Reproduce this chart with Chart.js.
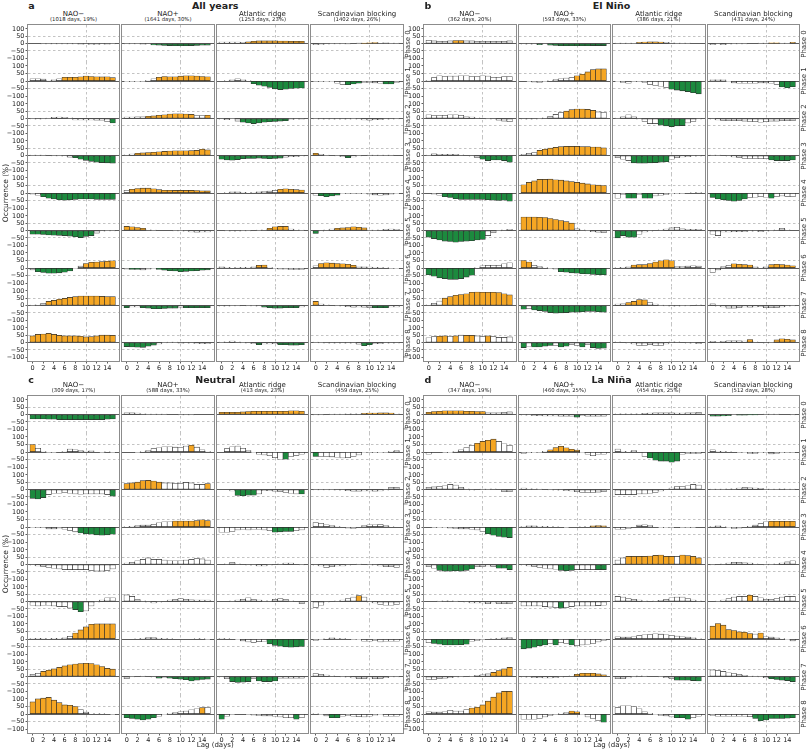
<!DOCTYPE html>
<html lang="en">
<head>
<meta charset="UTF-8" />
<title>Regime occurrence by MJO phase and lag</title>
<script src="https://cdn.jsdelivr.net/npm/chart.js"></script>
<style>
  body { margin: 0; background: #fff; width: 808px; height: 750px; overflow: hidden; position: relative;
         font-family: "DejaVu Sans", sans-serif; color: #222; }
  .txt { position: absolute; white-space: nowrap; line-height: 1; transform: translate(-50%, -50%); }
  .frame { position: absolute; border: 1.4px solid #8c8c8c; box-sizing: border-box; pointer-events: none; }
  canvas { position: absolute; }
</style>
</head>
<body>
<div id="fig"></div>
<script>
// ---- labels / ticks ----
const lags = [0, 1, 2, 3, 4, 5, 6, 7, 8, 9, 10, 11, 12, 13, 14, 15];
const xTicks = [0, 2, 4, 6, 8, 10, 12, 14];
const yTicks = [100, 50, 0, -50, -100];
const regimes = ['NAO\u2212', 'NAO+', 'Atlantic ridge', 'Scandinavian blocking'];
const phases = ['Phase 0', 'Phase 1', 'Phase 2', 'Phase 3', 'Phase 4', 'Phase 5', 'Phase 6', 'Phase 7', 'Phase 8'];
const daysAll = ['(1018 days, 19%)', '(1641 days, 30%)', '(1253 days, 23%)', '(1402 days, 26%)'];
const daysNino = ['(362 days, 20%)', '(593 days, 33%)', '(386 days, 21%)', '(431 days, 24%)'];
const daysNeutral = ['(309 days, 17%)', '(588 days, 33%)', '(413 days, 23%)', '(459 days, 25%)'];
const daysNina = ['(347 days, 19%)', '(460 days, 25%)', '(454 days, 25%)', '(512 days, 28%)'];

// ---- values: one row per phase (0..8), one value per lag (0..15) ----
// significance strings: o = significant positive, g = significant negative, w = not significant

// a) All years
const allNaoMinus = [
  [0,0,-2,-2,-2,-2,-2,-3,-3,-4,-5,-6,-6,-5,-4,-3],
  [15,15,12,5,8,15,25,25,25,28,33,30,28,27,28,22],
  [-3,-5,-3,2,8,10,8,5,-10,-10,-10,-10,-12,-12,-22,-30],
  [2,3,2,0,-2,-3,-5,-12,-15,-25,-33,-40,-45,-48,-50,-52],
  [-8,-15,-25,-35,-40,-45,-48,-45,-42,-40,-40,-40,-42,-42,-42,-42],
  [-25,-25,-27,-30,-32,-33,-35,-38,-42,-48,-40,-35,-18,-5,-3,-2],
  [-12,-25,-30,-35,-35,-32,-28,-20,-5,12,30,38,40,42,45,48],
  [2,5,15,28,35,42,48,55,60,65,65,65,65,62,60,60],
  [45,55,58,62,55,48,45,45,45,42,38,40,45,50,50,48]
];
const allNaoMinusSig = ['wwwwwwwwwwwwwwww','wwwwwwoooooooooo','wwwwwwwwwwwwwwwg','wwwwwwwwgggggggg','wwgggggggggggggg','ggggggggggggwwww','wgggggggwwoooooo','wwwooooooooooooo','oooooooooooooooo'];

const allNaoPlus = [
  [-2,-3,-3,-4,-5,-10,-12,-13,-14,-15,-15,-15,-14,-13,-12,-12],
  [-5,-5,-5,-3,5,15,25,30,28,28,32,35,35,33,30,28],
  [10,10,12,12,15,18,22,25,30,32,32,30,28,20,20,22],
  [5,10,15,18,20,22,25,28,30,32,32,32,33,35,42,38],
  [18,25,30,32,32,28,22,18,18,17,17,17,17,16,15,14],
  [28,25,20,15,5,2,0,0,0,-2,-3,-5,-10,-12,-10,-10],
  [-8,-10,-10,-12,-8,-5,-10,-15,-18,-20,-25,-22,-20,-18,-15,-12],
  [-15,-10,-10,-15,-18,-22,-22,-20,-18,-18,-12,-15,-15,-15,-15,-15],
  [-28,-30,-32,-33,-25,-18,-10,-3,2,3,-4,-5,-5,-7,-8,-8]
];
const allNaoPlusSig = ['wwwwwggggggggggg','wwwwwwoooooooooo','wwwwooooooooowwo','wwoooooooooooooo','wooooooooooooooo','oooowwwwwwwwwwww','wggwwwgggggggggg','gwwgggggggwggggg','ggggggwwwwwwwwww'];

const allAtlRidge = [
  [10,10,10,10,8,12,15,18,18,18,18,17,17,15,15,15],
  [0,3,8,15,8,3,-18,-28,-35,-42,-52,-57,-55,-50,-48,-46],
  [-5,-8,-3,-18,-25,-30,-35,-30,-25,-22,-20,-18,-15,-6,-5,-4],
  [-25,-30,-32,-28,-22,-20,-20,-18,-20,-22,-20,-18,-12,-8,-8,-5],
  [0,3,8,8,5,3,5,8,10,12,18,25,28,25,22,20],
  [0,-3,-5,-5,-3,-2,0,2,5,15,25,28,28,10,5,2],
  [8,5,3,5,5,5,8,18,20,5,-5,-8,-8,-10,-10,-10],
  [-5,-5,-3,-2,0,-2,-3,-5,-12,-15,-18,-18,-15,-15,-15,-10],
  [2,5,10,5,-2,-5,-8,-15,-10,-10,-8,-15,-15,-18,-18,-15]
];
const allAtlRidgeSig = ['wwwwwooooooooooo','wwwwwwgggggggggg','wwwwgggggggggwww','ggggggggggggwwww','wwwwwwwwwwwooooo','wwwwwwwwwoooowww','wwwwwwwoowwwwwww','wwwwwwwwgggggggw','wwwwwwwgwwwggggg'];

const allScBlock = [
  [-8,-6,-5,-3,-2,-2,-1,0,1,3,5,6,5,4,2,2],
  [-3,-5,-5,-5,-15,-22,-25,-20,-15,-10,-10,-12,-15,-20,-20,-10],
  [-3,-5,-5,-5,-5,-5,-5,-3,-5,-10,-12,-8,-8,-5,-5,-3],
  [15,8,3,0,-3,-8,-15,-10,-3,0,2,3,3,2,2,0],
  [-15,-18,-25,-20,-15,-5,-3,-2,-3,-5,-8,-12,-15,-12,-8,-5],
  [-20,-5,5,10,15,18,20,25,22,18,2,3,5,8,10,8],
  [15,30,35,32,30,28,25,18,8,8,6,5,5,3,-2,-5],
  [28,10,5,0,-3,-5,-8,-12,-10,-12,-15,-15,-15,-15,-10,-10],
  [2,-3,-5,-5,-5,-5,-5,-5,-12,-22,-15,-8,-8,-5,-5,-5]
];
const allScBlockSig = ['wwwwwwwwwooowwww','wwwwwwgggwwwwggw','wwwwwwwwwwwwwwww','owwwwwgwwwwwwwww','wggggwwwwwwwwwww','gwwwoooooowwwwww','wooooooowwwwwwww','owwwwwwwwwwgggww','wwwwwwwwwggwwwww'];

// b) El Nino
const ninoNaoMinus = [
  [22,18,15,15,18,20,20,18,18,15,15,15,15,15,15,18],
  [5,22,35,30,33,33,35,35,30,30,35,33,25,25,30,30],
  [25,20,20,22,25,25,22,12,10,5,0,-3,-5,-12,-18,-22],
  [3,12,8,8,8,8,5,0,-5,-15,-25,-35,-30,-30,-35,-45],
  [0,-8,-15,-25,-30,-38,-42,-42,-42,-42,-42,-45,-48,-50,-48,-55],
  [-45,-55,-65,-72,-75,-80,-75,-72,-70,-65,-60,-35,-15,-3,5,8],
  [-45,-55,-65,-70,-75,-75,-70,-60,-48,3,15,18,18,18,28,35],
  [5,15,30,50,60,70,75,80,90,92,90,90,90,88,80,72],
  [32,40,42,45,42,45,50,48,48,45,40,45,40,35,35,38]
];
const ninoNaoMinusSig = ['wwwwwoowwwwwwwww','wwwwwwwwwwwwwwww','wwwwwwwwwwwwwwww','wwwwwwwwwwgggggg','wwwggggggggggggg','gggggggggggwwwww','gggggggggwwwwwww','wwwooooooooooooo','wwoowowoowwowwww'];

const ninoNaoPlus = [
  [-5,-5,-5,-8,-5,-12,-13,-15,-15,-15,-15,-15,-15,-14,-14,-14],
  [0,-5,-8,-10,-5,2,10,15,20,22,35,45,60,75,80,80],
  [-5,-5,-5,-3,5,15,28,40,50,60,65,65,62,55,45,42],
  [8,15,20,35,42,50,55,60,62,62,62,60,60,58,58,52],
  [55,70,80,90,90,92,88,85,80,75,70,65,60,55,52,50],
  [92,92,92,90,88,82,75,68,60,50,12,5,-3,-8,-12,-15],
  [50,40,18,10,3,-2,-8,-25,-28,-32,-35,-38,-40,-42,-45,-45],
  [-25,-22,-30,-35,-40,-48,-52,-50,-48,-45,-45,-42,-40,-40,-42,-45],
  [-35,-25,-30,-30,-25,-20,-20,-30,-25,-15,-20,-30,-15,-35,-40,-38]
];
const ninoNaoPlusSig = ['wwwgwggggggggggg','wwwwwwwwwwoooooo','wwwwwwwwooooooww','wwwooooooooooooo','oooooooooooooooo','oooooooooowwwwww','oowwwwwggggggggg','gwgggggggggggggg','gwggggwggwwgwggg'];

const ninoAtlRidge = [
  [2,2,3,3,8,10,12,12,10,8,5,3,3,2,0,0],
  [-5,-10,-15,-3,-2,-10,-22,-30,-35,-42,-55,-60,-65,-70,-78,-85],
  [3,12,25,12,-5,-20,-35,-35,-45,-50,-55,-50,-48,-30,-20,-5],
  [-15,-25,-35,-50,-52,-52,-50,-48,-45,-42,-25,-15,-10,-8,-5,-5],
  [-35,-10,-35,-35,-10,-35,-35,-20,-15,-10,-5,-5,-3,0,3,5],
  [-50,-35,-45,-45,-25,-10,-5,0,5,10,18,22,12,8,8,8],
  [2,5,8,20,22,22,30,40,48,55,48,10,10,12,15,12],
  [10,12,20,28,40,38,20,10,3,-2,-5,-5,-3,-3,0,5],
  [5,0,-5,-10,-20,-20,-15,-20,-20,-10,5,5,0,-5,-5,-8]
];
const ninoAtlRidgeSig = ['wwwwooooowwwwwww','wwwwwwwwwwgggggg','wwwwwwwwgggggwww','wwwgggggggwwwwww','wwggwggwwwwwwwww','ggggwwwwwwwwwwww','wwwoooooooowwwww','wwoooowwwwwwwwww','wwwwwwwwwwwwwwww'];

const ninoScBlock = [
  [-8,-5,-8,-5,-3,-2,-2,0,0,2,2,5,5,3,3,8],
  [8,8,8,-5,-12,-15,-15,-15,-15,-12,-12,-15,-22,-40,-45,-38],
  [-5,-10,-15,-15,-15,-15,-18,-20,-22,-25,-22,-18,-18,-15,-15,-15],
  [3,2,0,-5,-10,-15,-20,-20,-20,-22,-22,-30,-35,-35,-35,-30],
  [-30,-40,-45,-50,-55,-50,-40,-30,-28,-25,-28,-35,-25,-20,-22,-25],
  [-25,-35,-10,-10,-8,-8,-8,-5,-5,-8,-5,-2,5,15,5,0],
  [-30,-12,10,18,28,25,22,20,8,2,8,22,25,22,20,15],
  [12,-5,-10,-18,-18,-15,-10,-12,-10,-8,-15,-15,-15,-10,-5,-3],
  [8,5,8,12,12,12,10,20,5,0,-5,2,18,25,22,18]
];
const ninoScBlockSig = ['wwwwwwwwwwwoowwo','wwwwwwwwwwwwwggg','wwwwwwwwwwwwwwww','wwwwwwwwwwwggggg','gggggggwwwwgwwww','wwwwwwwwwwwwwwww','wwwwoooowwwooooo','wwwwwwwwwwwwwwww','wwwwwwwowwwwoooo'];

// c) Neutral
const neuNaoMinus = [
  [-30,-30,-30,-32,-32,-35,-35,-35,-35,-35,-35,-35,-35,-35,-32,-30],
  [50,25,5,-2,-3,0,5,20,15,10,5,8,0,-3,3,-3],
  [-60,-65,-55,-35,-25,-25,-20,-25,-30,-32,-30,-30,-30,-30,-35,-45],
  [-5,-3,-2,-12,-12,-8,-15,-22,-32,-40,-45,-48,-52,-55,-52,-48],
  [-5,-10,-15,-20,-25,-30,-35,-35,-35,-35,-35,-40,-45,-45,-40,-30],
  [-25,-30,-25,-25,-30,-35,-35,-45,-55,-70,-65,-30,-5,10,25,25],
  [5,5,5,3,5,5,8,18,40,60,80,98,100,100,100,100],
  [15,22,35,42,52,62,72,80,85,88,90,88,80,68,55,50],
  [80,100,105,110,92,75,60,58,50,30,12,3,3,3,0,-3]
];
const neuNaoMinusSig = ['gggggggggggggggg','owwwwwwwwwwwwwww','gggwwwwwwwwwwwwg','wwwwwwwwwggggggg','wwwwwwwwwwwwwwww','wwwwwwwwggwwwwww','wwwwwwwwoooooooo','wwoooooooooooooo','ooooooooowwwwwww'];

const neuNaoPlus = [
  [12,12,10,5,3,3,2,2,0,0,-2,-2,-2,0,0,0],
  [0,0,-2,3,10,22,28,35,35,32,30,40,45,32,15,5],
  [40,45,50,60,62,58,50,45,45,42,42,48,45,35,35,40],
  [3,5,10,12,12,18,28,35,35,40,40,40,40,42,48,42],
  [10,15,25,35,45,35,35,30,25,25,25,30,35,40,38,30],
  [45,35,15,5,-5,-10,-5,0,10,15,20,15,12,10,10,10],
  [0,0,2,5,10,10,5,5,3,0,0,0,0,2,2,-2],
  [-15,-3,0,2,0,-5,-12,-8,-12,-15,-18,-22,-30,-25,-20,-18],
  [-25,-30,-35,-40,-35,-25,-15,-5,5,10,15,20,28,35,42,45]
];
const neuNaoPlusSig = ['wwwwwwwwwwwwwwww','wwwwwwwwwwwwowww','ooooooowwwwwwwwo','wwwwwwwwwooooooo','wwwwwwwwwwwwwwww','wwwwwwwwwwwwwwww','wwwwwwwwwwwwwwww','wwwwwwgwgggggggg','ggggggwwwwwwwwow'];

const neuAtlRidge = [
  [15,15,15,15,18,20,22,22,22,22,22,22,22,25,25,22],
  [0,22,35,40,25,10,-5,-15,-20,-25,-38,-48,-48,-30,-22,-15],
  [0,0,-10,-40,-42,-38,-38,-30,-8,-8,-12,-15,-20,-25,-30,-30],
  [-35,-35,-30,-20,-15,-20,-15,-15,-20,-25,-35,-32,-30,-30,-25,-20],
  [0,5,15,5,0,-5,-5,-10,-10,-5,0,5,10,10,0,-3],
  [0,0,5,10,15,25,15,10,5,5,15,20,15,5,0,-15],
  [5,3,0,-5,-12,-20,-22,-18,-15,-32,-42,-48,-52,-55,-52,-50],
  [-5,-15,-35,-40,-38,-35,-15,-30,-35,-35,-30,-12,-12,-12,-12,-12],
  [-35,-15,-3,0,0,-2,-8,-10,-12,-12,-15,-20,-25,-25,-35,-25]
];
const neuAtlRidgeSig = ['oooooooooooooooo','wwwwwwwwwwwwgwww','wwwggggwwwwwwwwg','wwwwwwwwwwggggww','wwwwwwwwwwwwwwww','wwwwwwwwwwwwwwww','wwwwwwwwwggggggg','wwggggwggggwwwww','gwwwwwwwwwwwwwgw'];

const neuScBlock = [
  [-2,-2,0,2,3,3,5,5,5,8,10,10,12,12,10,5],
  [-30,-30,-30,-32,-35,-40,-38,-30,-20,-5,-3,-5,-5,-3,5,10],
  [-2,-2,-2,-3,-5,-5,-8,-12,-12,-10,-10,-12,-10,-5,15,15],
  [30,25,15,10,5,0,-8,-10,0,10,15,15,18,10,3,0],
  [-5,-10,-22,-15,-10,-10,-5,0,2,0,-3,-5,-10,-15,-15,-20],
  [-40,-25,-5,0,5,10,20,30,40,30,-5,-10,-20,-25,-25,-20],
  [-10,-5,3,8,5,5,0,-3,-5,-15,-15,-10,-20,-15,-15,-15],
  [20,15,10,5,0,-3,-5,-10,-15,-15,-10,-15,-15,-8,-3,-3],
  [2,-2,-12,-25,-25,-15,-10,-15,-18,-20,-15,-8,-5,-15,-15,-15]
];
const neuScBlockSig = ['wwwwwwwwwoooooow','gwwwwwwwwwwwwwww','wwwwwwwwwwwwwwww','wwwwwwwwwwwwwwww','wwwwwwwwwwwwwwww','wwwwwwwwowwwwwww','wwwwwwwwwwwwwwww','wwwwwwwwwwwwwwww','wwwggwwwwwwwwwww'];

// d) La Nina
const ninaNaoMinus = [
  [15,20,22,25,25,25,25,22,22,20,20,12,12,12,15,18],
  [-15,0,0,-3,-5,5,15,30,45,58,70,78,85,70,55,45],
  [15,18,22,25,35,30,15,5,-5,0,2,3,5,0,-15,-15],
  [0,-2,-5,-5,-8,-10,-12,-12,-15,-20,-30,-45,-55,-62,-68,-70],
  [-15,-25,-40,-45,-45,-42,-45,-40,-30,-15,-15,-10,-15,-25,-25,-35],
  [0,0,3,5,5,3,0,-5,-10,-10,-10,-15,-10,-15,-15,-15],
  [-25,-30,-35,-40,-40,-40,-38,-35,-15,-10,-2,0,2,5,8,10],
  [-20,-20,-15,-12,-8,-5,-3,0,3,8,12,18,28,40,52,62],
  [15,12,12,15,25,20,20,30,40,45,60,85,112,140,150,150]
];
const ninaNaoMinusSig = ['ooooooooooowwwww','wwwwwwwwwoooowww','wwwwwwwwwwwwwwww','wwwwwwwwwwwggggg','wwgggggggwwwwggg','wwwwwwwwwwwwwwww','wgggggggwwwwwwww','wwwwwwwwwwwwoooo','wwwwwwwwoooooooo'];

const ninaNaoPlus = [
  [-5,-5,-8,-8,-10,-10,-10,-12,-12,-12,-18,-8,-12,-12,-12,-12],
  [-10,-5,-5,-3,5,15,30,38,28,18,12,-5,-15,-25,-15,-15],
  [10,5,5,3,0,-3,-5,-5,-8,-10,-15,-20,-20,-20,-18,-15],
  [5,8,8,5,5,3,2,0,-2,0,0,2,3,8,10,8],
  [-5,-10,-15,-20,-25,-30,-32,-40,-42,-40,-35,-35,-35,-35,-35,-35],
  [-30,-30,-30,-30,-35,-38,-40,-45,-40,-35,-30,-30,-30,-30,-28,-25],
  [-65,-60,-55,-45,-40,-30,-40,-25,-30,-40,-45,-40,-35,-30,-20,-10],
  [-5,-5,-8,-8,-10,-10,-8,-5,0,5,15,22,22,22,18,12],
  [-35,-35,-35,-30,-20,-10,-3,3,10,20,15,-5,-20,-30,-45,-55]
];
const ninaNaoPlusSig = ['wwwwwwwwwwgwwwww','wwwwwoooooowwwww','wwwwwwwwwwwwwwww','wwwwwwwwwwwwwooo','wwwwwwwgggwwwwgg','wwwwwwwgwwwwwwww','gggggwgwwgwwwwww','wwwwwwwwwwoooooo','wwwwwwwwwoowwwwg'];

const ninaAtlRidge = [
  [5,5,5,5,5,8,10,12,12,12,12,10,10,12,12,15],
  [20,5,3,10,0,-30,-40,-55,-60,-60,-68,-60,-15,-10,-10,-10],
  [-35,-35,-35,-35,-30,-30,-25,-20,-10,0,10,20,20,25,35,30],
  [-15,-15,-10,0,12,15,10,0,-5,-5,-3,0,-2,-3,-2,0],
  [30,45,55,55,55,55,58,62,65,55,55,55,65,60,55,45],
  [35,30,20,15,10,5,0,5,8,15,25,30,30,20,10,5],
  [15,12,12,15,22,28,30,35,32,28,25,20,15,12,8,3],
  [-15,-15,-10,-3,5,3,0,0,-3,-8,-15,-25,-25,-25,-28,-30],
  [42,55,55,50,35,15,5,-5,-10,-12,-20,-25,-25,-35,-25,-15]
];
const ninaAtlRidgeSig = ['wwwwwwwwwwwwwwww','wwwwwwggggggwwww','wwwwwwwwwwwwwwww','wwwwwwwwwwwwwwww','wwooooooooowoooo','wwwwwwwwwwwwwwww','wwwwwwwwwwwwwwww','wwwwwwwwwwwggggg','wwwwwwwwwwwgggww'];

const ninaScBlock = [
  [-12,-12,-10,-8,-3,-4,-4,-3,-2,0,2,3,2,0,0,-2],
  [15,5,5,3,0,-3,-5,-10,-10,-5,-5,-12,-10,-5,-3,-2],
  [3,3,3,5,5,10,15,12,10,8,3,3,3,5,3,3],
  [5,8,2,-5,-10,-8,0,5,12,22,35,38,38,38,38,38],
  [-2,0,5,10,15,15,12,10,5,0,-3,2,5,10,18,25],
  [0,3,10,20,30,35,35,42,35,25,15,15,20,30,35,35],
  [85,103,92,62,56,47,45,36,33,40,15,12,8,3,-5,-12],
  [45,40,35,25,20,15,8,3,2,-2,-8,-15,-20,-25,-28,-35],
  [-10,-15,-15,-15,-15,-15,-15,-18,-30,-45,-40,-30,-30,-30,-28,-25]
];
const ninaScBlockSig = ['ggggwggggwwwwwww','wwwwwwwwwwwwwwww','wwwwwwwwwwwwwwww','wwwwwwwwwwwooooo','wwwwwwwwwwwwwwww','wwwwwwwowwwwwwww','oooooooowowwwwww','wwwwwwwwwwwggggg','wwwwwwwwgggggggg'];

// ---- layout ----
const ORANGE = '#f5a623', GREEN = '#1c8a3e', GRIDC = '#b4b4b4';
const fill = { o: ORANGE, g: GREEN, w: '#ffffff' };
const RH = 37.4, COLW = 91.6, COLSTEP = 94.5;
const PAD = 16, XAX = 14, YAX = 30;
const XMIN = -0.87, XMAX = 16.18;

const panels = [
  { letter: 'a', title: 'All years', left: 27.7, top: 24.8, titleY: 5.5, days: daysAll,
    series: [allNaoMinus, allNaoPlus, allAtlRidge, allScBlock],
    sigs: [allNaoMinusSig, allNaoPlusSig, allAtlRidgeSig, allScBlockSig], ylabel: true, xlabel: false },
  { letter: 'b', title: 'El Niño', left: 424, top: 24.8, titleY: 5.5, days: daysNino,
    series: [ninoNaoMinus, ninoNaoPlus, ninoAtlRidge, ninoScBlock],
    sigs: [ninoNaoMinusSig, ninoNaoPlusSig, ninoAtlRidgeSig, ninoScBlockSig], ylabel: false, xlabel: false },
  { letter: 'c', title: 'Neutral', left: 27.7, top: 396, titleY: 379.5, days: daysNeutral,
    series: [neuNaoMinus, neuNaoPlus, neuAtlRidge, neuScBlock],
    sigs: [neuNaoMinusSig, neuNaoPlusSig, neuAtlRidgeSig, neuScBlockSig], ylabel: true, xlabel: true },
  { letter: 'd', title: 'La Niña', left: 424, top: 396, titleY: 379.5, days: daysNina,
    series: [ninaNaoMinus, ninaNaoPlus, ninaAtlRidge, ninaScBlock],
    sigs: [ninaNaoMinusSig, ninaNaoPlusSig, ninaAtlRidgeSig, ninaScBlockSig], ylabel: false, xlabel: true }
];

Chart.defaults.font.family = '"DejaVu Sans", sans-serif';
const fig = document.getElementById('fig');

function addText(txt, x, y, style) {
  const d = document.createElement('div');
  d.className = 'txt';
  d.textContent = txt;
  d.style.left = x + 'px';
  d.style.top = y + 'px';
  Object.assign(d.style, style || {});
  fig.appendChild(d);
  return d;
}

function minusFmt(v) { return v < 0 ? '\u2212' + Math.abs(v) : String(v); }

function drawRow(colL, colR, yTop, yBot, vals, sig, firstCol, lastRow) {
  const extraL = firstCol ? YAX : 0;
  const padB = lastRow ? 0 : PAD;
  const axH = lastRow ? XAX : 0;
  const cv = document.createElement('canvas');
  cv.width = colR - colL + extraL;
  cv.height = PAD + (yBot - yTop) + padB + axH;
  cv.style.left = (colL - extraL) + 'px';
  cv.style.top = (yTop - PAD) + 'px';
  cv.style.width = cv.width + 'px';
  cv.style.height = cv.height + 'px';
  fig.appendChild(cv);

  new Chart(cv, {
    type: 'bar',
    data: {
      datasets: [{
        data: vals.map((v, i) => ({ x: lags[i], y: v })),
        backgroundColor: vals.map((v, i) => fill[sig[i]]),
        borderColor: '#2e2e2e',
        borderWidth: 0.6,
        borderSkipped: false,
        barPercentage: 1,
        categoryPercentage: 1,
        clip: false
      }]
    },
    options: {
      responsive: false,
      animation: false,
      devicePixelRatio: 1,
      events: [],
      layout: { padding: { top: PAD, bottom: padB, left: 0, right: 0 } },
      plugins: { legend: { display: false }, tooltip: { enabled: false } },
      scales: {
        x: {
          type: 'linear', min: XMIN, max: XMAX, offset: false, bounds: 'ticks',
          afterBuildTicks: s => { s.ticks = (lastRow ? xTicks : [10]).map(v => ({ value: v })); },
          afterFit: s => { s.height = axH; },
          ticks: { display: lastRow, autoSkip: false, maxRotation: 0, minRotation: 0, padding: 1, color: '#222',
                   font: { size: 6.5 } },
          grid: {
            offset: false,
            color: c => (c.tick && c.tick.value === 10) ? GRIDC : 'rgba(0,0,0,0)',
            lineWidth: 0.8, drawTicks: lastRow, tickLength: 2.5, tickColor: '#333', tickWidth: 0.8
          },
          border: { display: false, dash: [2.5, 2.5] }
        },
        y: {
          min: -126, max: 126,
          afterBuildTicks: s => { s.ticks = yTicks.map(v => ({ value: v })); },
          afterFit: s => { s.width = firstCol ? YAX : 0; },
          ticks: { display: firstCol, autoSkip: false, padding: 1, color: '#222', font: { size: 6.5 },
                   callback: v => minusFmt(v) },
          grid: {
            color: c => {
              const v = c.tick ? c.tick.value : null;
              if (v === 0) return '#333';
              if (v === 50 || v === -50) return GRIDC;
              return 'rgba(0,0,0,0)';
            },
            lineWidth: 0.8, drawTicks: firstCol, tickLength: 2.5, tickColor: '#333', tickWidth: 0.8
          },
          border: { display: false, dash: c => (c.tick && c.tick.value === 0) ? [] : [2.5, 2.5] }
        }
      }
    }
  });
}

panels.forEach(p => {
  // panel letter and title
  addText(p.letter, p.left + 0.5, p.titleY, { fontWeight: 'bold', fontSize: '9.5px', transform: 'translate(0,-50%)' });
  const lastColR = p.left + 3 * COLSTEP + COLW;
  addText(p.title, (p.left + lastColR) / 2, p.titleY, { fontWeight: 'bold', fontSize: '9.5px' });

  const frameTop = Math.round(p.top);
  const frameBot = Math.round(p.top + 9 * RH);

  for (let c = 0; c < 4; c++) {
    const x0 = p.left + c * COLSTEP;
    const colL = Math.round(x0), colR = Math.round(x0 + COLW);
    addText(regimes[c], x0 + COLW / 2, p.top - 11.3, { fontSize: '7px' });
    addText(p.days[c], x0 + COLW / 2, p.top - 5, { fontSize: '5.3px' });

    for (let r = 0; r < 9; r++) {
      const yTop = Math.round(p.top + r * RH);
      const yBot = Math.round(p.top + (r + 1) * RH);
      drawRow(colL, colR, yTop, yBot, p.series[c][r], p.sigs[c][r], c === 0, r === 8);
    }

    const fr = document.createElement('div');
    fr.className = 'frame';
    fr.style.left = (colL - 0.7) + 'px';
    fr.style.top = (frameTop - 0.7) + 'px';
    fr.style.width = (colR - colL + 1.4) + 'px';
    fr.style.height = (frameBot - frameTop + 1.4) + 'px';
    fig.appendChild(fr);
  }

  // phase labels on the right
  for (let r = 0; r < 9; r++) {
    addText(phases[r], lastColR + 5, p.top + (r + 0.5) * RH,
      { fontSize: '7px', color: '#333', transform: 'translate(-50%,-50%) rotate(-90deg)' });
  }
  if (p.ylabel) {
    addText('Occurrence (%)', 5.5, p.top + 4.5 * RH,
      { fontSize: '7.5px', transform: 'translate(-50%,-50%) rotate(-90deg)' });
  }
  if (p.xlabel) {
    addText('Lag (days)', (p.left + lastColR) / 2, 745, { fontSize: '7px' });
  }
});
</script>
</body>
</html>
